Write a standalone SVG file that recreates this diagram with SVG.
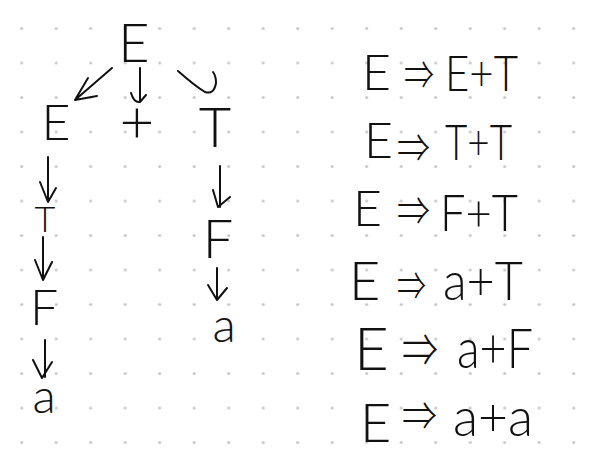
<svg xmlns="http://www.w3.org/2000/svg" width="590" height="458" viewBox="0 0 590 458">
<defs>
<pattern id="dots" x="4.45" y="11.25" width="34.5" height="34.5" patternUnits="userSpaceOnUse">
<circle cx="17.25" cy="17.25" r="1.6" fill="#c9c9c9"/>
</pattern>
<style>
.t{font-family:Lato,"Liberation Sans","DejaVu Sans",sans-serif;font-weight:300;fill:#111;text-anchor:middle}
.d{font-family:Lato,"Liberation Sans","DejaVu Sans",sans-serif;font-weight:300;fill:#111}
.ar{font-family:"Noto Sans CJK SC","DejaVu Sans",sans-serif;font-weight:300;fill:#111}
.c{fill:none;stroke:#111;stroke-width:2;stroke-linecap:round;stroke-linejoin:round}
</style>
</defs>
<rect width="590" height="458" fill="#fff"/>
<rect width="590" height="458" fill="url(#dots)"/>

<g id="n-root"><text class="t" x="134" y="62" font-size="54">E</text></g>
<g id="n-E"><text class="t" x="56" y="140" font-size="50">E</text></g>
<g id="n-plus"><text class="t" x="137" y="143" font-size="60">+</text></g>
<g id="n-T1"><text class="t" x="215" y="147" font-size="56">T</text></g>
<g id="n-T2"><text class="t" x="45" y="232" font-size="36">T</text></g>
<g id="n-F1"><text class="t" x="44" y="325" font-size="50">F</text></g>
<g id="n-a1"><text class="t" x="44" y="413" font-size="48">a</text></g>
<g id="n-F2"><text class="t" x="218" y="258" font-size="54">F</text></g>
<g id="n-a2"><text class="t" x="224" y="342" font-size="48">a</text></g>

<g id="connectors">
<path class="c" d="M112,68 L75,100 M88,78 L75,100 L97,96"/>
<path class="c" d="M140,68 L140,102 M131,93 Q134,103 140,102 L146,95"/>
<path class="c" d="M178,71 Q195,86 205,92 Q214,95 216,83 Q216,76 213,72"/>
<path class="c" d="M48,157 L48,201 M40,182 L48,202 L56,188"/>
<path class="c" d="M220,166 L220,207 M213,190 L218,207 L230,197"/>
<path class="c" d="M43,237 L43,279 M35,260 L43,280 L52,262"/>
<path class="c" d="M45,340 L45,377 M33,360 L42,378 L52,362"/>
<path class="c" d="M217,268 L217,299 M208,285 L217,300 L227,288"/>
</g>

<g id="d1">
<text class="d" x="362" y="90" font-size="50">E</text>
<text class="ar" x="404" y="89" font-size="40" textLength="30" lengthAdjust="spacingAndGlyphs">⇒</text>
<text class="d" x="445" y="91" font-size="50" textLength="73" lengthAdjust="spacingAndGlyphs">E+T</text>
</g>
<g id="d2">
<text class="d" x="364" y="158" font-size="50">E</text>
<text class="ar" x="397" y="162" font-size="40" textLength="33" lengthAdjust="spacingAndGlyphs">⇒</text>
<text class="d" x="445" y="160" font-size="50" textLength="67" lengthAdjust="spacingAndGlyphs">T+T</text>
</g>
<g id="d3">
<text class="d" x="353" y="226" font-size="50">E</text>
<text class="ar" x="397" y="225" font-size="40" textLength="33" lengthAdjust="spacingAndGlyphs">⇒</text>
<text class="d" x="440" y="231" font-size="52" textLength="78" lengthAdjust="spacingAndGlyphs">F+T</text>
</g>
<g id="d4">
<text class="d" x="349" y="300" font-size="54">E</text>
<text class="ar" x="397" y="300" font-size="40" textLength="29" lengthAdjust="spacingAndGlyphs">⇒</text>
<text class="d" x="443" y="300" font-size="54" textLength="80" lengthAdjust="spacingAndGlyphs">a+T</text>
</g>
<g id="d5">
<text class="d" x="354" y="370" font-size="60">E</text>
<text class="ar" x="402" y="366" font-size="46" textLength="36" lengthAdjust="spacingAndGlyphs">⇒</text>
<text class="d" x="457" y="368" font-size="56" textLength="76" lengthAdjust="spacingAndGlyphs">a+F</text>
</g>
<g id="d6">
<text class="d" x="360" y="442" font-size="54">E</text>
<text class="ar" x="402" y="430" font-size="40" textLength="35" lengthAdjust="spacingAndGlyphs">⇒</text>
<text class="d" x="453" y="436" font-size="54" textLength="80" lengthAdjust="spacingAndGlyphs">a+a</text>
</g>
</svg>
